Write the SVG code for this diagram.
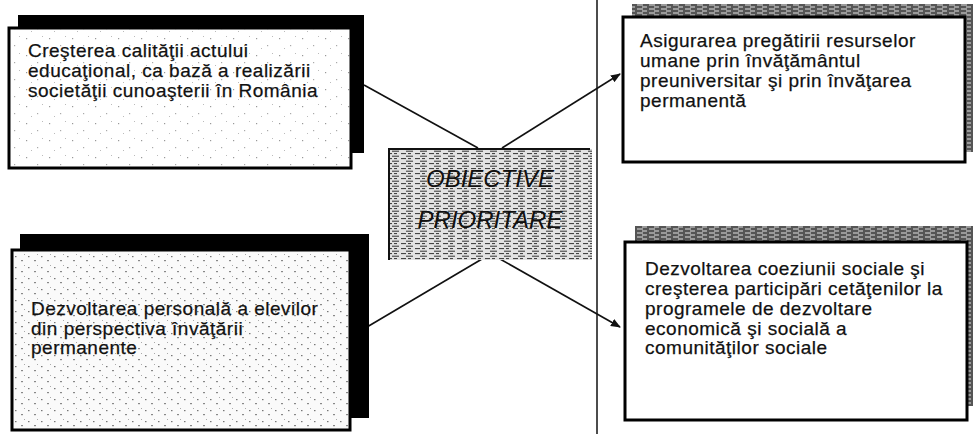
<svg xmlns="http://www.w3.org/2000/svg" width="973" height="434" viewBox="0 0 973 434">
<style>
.t{font-family:"Liberation Sans",Arial,sans-serif;font-size:19px;fill:#111;stroke:#111;stroke-width:0.25;letter-spacing:0.5px}
.c{font-family:"Liberation Sans",Arial,sans-serif;font-size:24px;font-style:italic;fill:#111;text-anchor:middle}
.front{stroke:#000;stroke-width:3}
.conn{stroke:#111;stroke-width:1.6;fill:none}
</style>
<defs>
<pattern id="speck" width="23" height="17" patternUnits="userSpaceOnUse">
<rect width="23" height="17" fill="#fff"/>
<rect x="3" y="4" width="1.2" height="1.2" fill="#999"/>
<rect x="14" y="11" width="1.2" height="1.2" fill="#aaa"/>
<rect x="19" y="2" width="1" height="1" fill="#bbb"/>
<rect x="8" y="14" width="1" height="1" fill="#bbb"/>
</pattern>
<pattern id="speck2" width="13" height="11" patternUnits="userSpaceOnUse">
<rect width="13" height="11" fill="#fafafa"/>
<rect x="2" y="3" width="1.5" height="1.2" fill="#777"/>
<rect x="8" y="7" width="2" height="1.2" fill="#888"/>
<rect x="11" y="1" width="1" height="1" fill="#aaa"/>
</pattern>
<pattern id="hatch" width="14" height="5" patternUnits="userSpaceOnUse">
<rect width="14" height="5" fill="#e2e2e2"/>
<path d="M0 1.2h7M9 3.6h5M2 3.6h3" stroke="#333" stroke-width="1"/>
</pattern>
<pattern id="hatchDark" width="12" height="4" patternUnits="userSpaceOnUse">
<rect width="12" height="4" fill="#555"/>
<path d="M1 1h6M6 3h5" stroke="#eee" stroke-width="0.9"/>
</pattern>
<marker id="arr" markerWidth="10" markerHeight="8" refX="9" refY="4" orient="auto" markerUnits="userSpaceOnUse">
<path d="M0 0L10 4L0 8z" fill="#111"/>
</marker>
</defs>
<rect width="973" height="434" fill="#fff"/>

<g id="connectors">
<line x1="597" y1="0" x2="597" y2="434" stroke="#111" stroke-width="1.5"/>
<line class="conn" x1="364" y1="85" x2="478" y2="148"/>
<line class="conn" x1="502" y1="148" x2="620" y2="74" marker-end="url(#arr)"/>
<line class="conn" x1="367" y1="327" x2="482" y2="259"/>
<line class="conn" x1="500" y1="259" x2="620" y2="327" marker-end="url(#arr)"/>
</g>

<g id="node-calitate">
<rect x="18" y="15" width="346" height="138" fill="#000"/>
<rect class="front" x="9" y="28" width="342" height="140" fill="url(#speck)"/>
<text class="t" x="28" y="57">Creşterea calităţii actului</text>
<text class="t" x="28" y="77">educaţional, ca bază a realizării</text>
<text class="t" x="28" y="97">societăţii cunoaşterii în România</text>
</g>

<g id="node-dezvoltare-personala">
<rect x="20" y="234" width="349" height="184" fill="#000"/>
<rect class="front" x="12" y="250" width="338" height="180" fill="url(#speck2)"/>
<text class="t" x="31" y="315">Dezvoltarea personală a elevilor</text>
<text class="t" x="31" y="335">din perspectiva învăţării</text>
<text class="t" x="31" y="354">permanente</text>
</g>

<g id="node-obiective">
<rect x="389" y="149" width="203" height="111" fill="url(#hatch)"/>
<path d="M389 260V149H590" fill="none" stroke="#111" stroke-width="2"/>
<text class="c" x="490" y="187">OBIECTIVE</text>
<text class="c" x="490" y="228">PRIORITARE</text>
</g>

<g id="node-resurse">
<rect x="632" y="4" width="341" height="148" fill="url(#hatchDark)"/>
<rect class="front" x="623" y="17" width="342" height="145" fill="#fff"/>
<text class="t" x="640" y="47">Asigurarea pregătirii resurselor</text>
<text class="t" x="640" y="67">umane prin învăţământul</text>
<text class="t" x="640" y="87">preuniversitar şi prin învăţarea</text>
<text class="t" x="640" y="107">permanentă</text>
</g>

<g id="node-coeziune">
<rect x="635" y="226" width="338" height="180" fill="url(#hatchDark)"/>
<rect class="front" x="625" y="242" width="342" height="178" fill="#fff"/>
<text class="t" x="645" y="275">Dezvoltarea coeziunii sociale şi</text>
<text class="t" x="645" y="295">creşterea participări cetăţenilor la</text>
<text class="t" x="645" y="315">programele de dezvoltare</text>
<text class="t" x="645" y="335">economică şi socială a</text>
<text class="t" x="645" y="354">comunităţilor sociale</text>
</g>
</svg>
